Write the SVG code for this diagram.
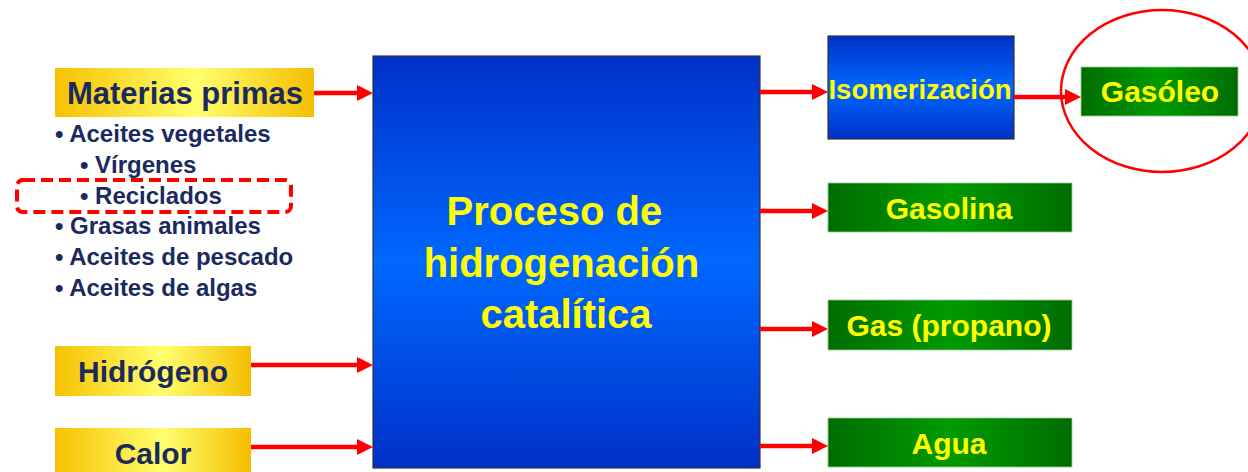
<svg xmlns="http://www.w3.org/2000/svg" width="1248" height="472" viewBox="0 0 1248 472">
<defs>
<linearGradient id="gY" x1="0" y1="0" x2="1" y2="0">
<stop offset="0" stop-color="#F6C200"/>
<stop offset="0.55" stop-color="#FFFF6E"/>
<stop offset="1" stop-color="#F4BE00"/>
</linearGradient>
<linearGradient id="gG" x1="0" y1="0" x2="1" y2="0">
<stop offset="0" stop-color="#006C00"/>
<stop offset="0.5" stop-color="#009A00"/>
<stop offset="1" stop-color="#006C00"/>
</linearGradient>
<linearGradient id="gB" x1="0" y1="0" x2="0" y2="1">
<stop offset="0" stop-color="#0030C8"/>
<stop offset="0.5" stop-color="#0068FF"/>
<stop offset="1" stop-color="#0030C8"/>
</linearGradient>
<marker id="ah" markerUnits="userSpaceOnUse" markerWidth="16" markerHeight="16" refX="4" refY="8" orient="auto">
<path d="M0,0 L16,8 L0,16 Z" fill="#FF0000"/>
</marker>
<style>
.yb{fill:url(#gY);}
.gb{fill:url(#gG);stroke:#8FCF8F;stroke-width:0.8;}
.bb{fill:url(#gB);stroke:#333;stroke-width:1.2;}
.nt{font-family:"Liberation Sans",Arial,sans-serif;font-weight:bold;fill:#1B2A5E;}
.yt{font-family:"Liberation Sans",Arial,sans-serif;font-weight:bold;fill:#FFFF00;}
.lt{font-family:"Liberation Sans",Arial,sans-serif;font-weight:bold;fill:#1B2A5E;font-size:24px;}
.ar{stroke:#FF0000;stroke-width:4.5;fill:none;marker-end:url(#ah);}
</style>
</defs>
<rect width="1248" height="472" fill="#FFFFFF"/>

<g id="materias">
<rect class="yb" x="55" y="68" width="259" height="49"/>
<text class="nt" x="185" y="104" font-size="31" text-anchor="middle">Materias primas</text>
</g>

<g id="lista">
<text class="lt" x="55" y="142">• Aceites vegetales</text>
<text class="lt" x="80" y="173">• Vírgenes</text>
<text class="lt" x="80" y="204">• Reciclados</text>
<text class="lt" x="55" y="234">• Grasas animales</text>
<text class="lt" x="55" y="265">• Aceites de pescado</text>
<text class="lt" x="55" y="296">• Aceites de algas</text>
</g>

<g id="resaltado-reciclados">
<rect x="17" y="180" width="274" height="32" rx="6" ry="6" fill="none" stroke="#FF0000" stroke-width="4" stroke-dasharray="12 6"/>
</g>

<g id="hidrogeno">
<rect class="yb" x="55" y="346" width="196" height="50"/>
<text class="nt" x="153" y="382" font-size="30" text-anchor="middle">Hidrógeno</text>
</g>

<g id="calor">
<rect class="yb" x="55" y="428" width="196" height="50"/>
<text class="nt" x="153" y="464" font-size="30" text-anchor="middle">Calor</text>
</g>

<g id="proceso">
<rect class="bb" x="373" y="56" width="387" height="412"/>
<text class="yt" font-size="40" text-anchor="middle">
<tspan x="560" y="225">Proceso de</tspan>
<tspan x="567" y="277">hidrogenación</tspan>
<tspan x="566" y="328">catalítica</tspan>
</text>
</g>

<g id="isomerizacion">
<rect class="bb" x="828" y="36" width="186" height="103"/>
<text class="yt" x="920" y="99" font-size="28" text-anchor="middle" textLength="183" lengthAdjust="spacingAndGlyphs">Isomerización</text>
</g>

<g id="gasoleo">
<rect class="gb" x="1081" y="67" width="157" height="49"/>
<text class="yt" x="1160" y="102" font-size="30" text-anchor="middle">Gasóleo</text>
</g>

<g id="gasolina">
<rect class="gb" x="828" y="183" width="244" height="49"/>
<text class="yt" x="949" y="219" font-size="30" text-anchor="middle">Gasolina</text>
</g>

<g id="gas">
<rect class="gb" x="828" y="300" width="244" height="50"/>
<text class="yt" x="949" y="336" font-size="30" text-anchor="middle">Gas (propano)</text>
</g>

<g id="agua">
<rect class="gb" x="828" y="418" width="244" height="49"/>
<text class="yt" x="949" y="454" font-size="30" text-anchor="middle">Agua</text>
</g>

<g id="resaltado-gasoleo">
<ellipse cx="1162" cy="91" rx="101" ry="81" fill="none" stroke="#FF0000" stroke-width="2.5"/>
</g>

<g id="conectores">
<path class="ar" d="M314,93 H361"/>
<path class="ar" d="M251,365 H361"/>
<path class="ar" d="M251,447 H361"/>
<path class="ar" d="M760,92 H816"/>
<path class="ar" d="M1014,97 H1069"/>
<path class="ar" d="M760,211 H816"/>
<path class="ar" d="M760,329 H816"/>
<path class="ar" d="M760,446 H816"/>
</g>
</svg>
